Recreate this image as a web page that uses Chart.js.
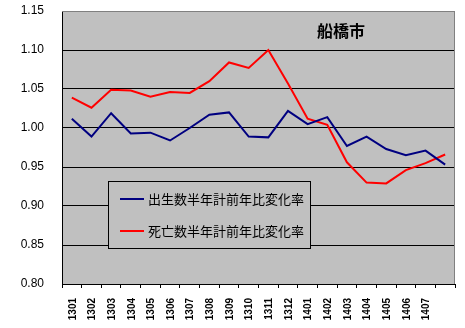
<!DOCTYPE html>
<html>
<head>
<meta charset="utf-8">
<script src="https://cdn.jsdelivr.net/npm/chart.js@4"></script>
<style>
  html, body { margin: 0; padding: 0; background: #fff; }
  canvas { display: block; }
</style>
</head>
<body>
<canvas id="chart" width="465" height="328"></canvas>
<script>
const months = ['1301', '1302', '1303', '1304', '1305', '1306', '1307', '1308', '1309', '1310',
  '1311', '1312', '1401', '1402', '1403', '1404', '1405', '1406', '1407', '1408'];
const birthRatio = [1.012, 0.989, 1.019, 0.993, 0.994, 0.984, 1.000, 1.017, 1.020, 0.989,
  0.988, 1.022, 1.005, 1.014, 0.977, 0.989, 0.973, 0.965, 0.971, 0.953];
const deathRatio = [1.039, 1.026, 1.049, 1.048, 1.040, 1.046, 1.045, 1.060, 1.084, 1.077,
  1.100, 1.057, 1.012, 1.004, 0.956, 0.930, 0.929, 0.946, 0.955, 0.966];
const seriesNames = ['出生数半年計前年比変化率', '死亡数半年計前年比変化率'];
const cityName = '船橋市';
const yMin = 0.80, yMax = 1.15, yStep = 0.05;

const plotBg = '#c0c0c0';
const jpFont = '"Noto Sans CJK JP", "Noto Sans", sans-serif';

const plotDecor = {
  id: 'plotDecor',
  beforeDraw(chart) {
    const { ctx, chartArea: a } = chart;
    ctx.save();
    ctx.fillStyle = plotBg;
    ctx.fillRect(a.left, a.top, a.right - a.left, a.bottom - a.top);
    ctx.restore();
  },
  afterDraw(chart) {
    const { ctx, chartArea: a } = chart;
    ctx.save();
    // grey frame on top and right
    ctx.strokeStyle = '#808080';
    ctx.lineWidth = 1;
    ctx.beginPath();
    ctx.moveTo(a.left, a.top + 0.5);
    ctx.lineTo(a.right - 0.5, a.top + 0.5);
    ctx.lineTo(a.right - 0.5, a.bottom);
    ctx.stroke();

    // vertical month labels under the x axis (last month has no label)
    const xs = chart.scales.x;
    ctx.fillStyle = '#000';
    ctx.font = 'bold 10px "Liberation Sans", Arial, sans-serif';
    ctx.textAlign = 'right';
    ctx.textBaseline = 'middle';
    for (let i = 0; i < months.length - 1; i++) {
      const x = xs.getPixelForValue(i);
      ctx.setTransform(0, -1, 1, 0, x + 1, a.bottom + 14);
      ctx.fillText(months[i], 0, 0);
    }
    ctx.setTransform(1, 0, 0, 1, 0, 0);

    // city name
    ctx.font = 'bold 16px ' + jpFont;
    ctx.textAlign = 'center';
    ctx.textBaseline = 'middle';
    ctx.fillText(cityName, 341, 31);

    // legend box
    const bx = 108.5, by = 181.5, bw = 202, bh = 67;
    ctx.fillStyle = plotBg;
    ctx.fillRect(bx, by, bw, bh);
    ctx.strokeStyle = '#000';
    ctx.strokeRect(bx, by, bw, bh);
    ctx.font = '13px ' + jpFont;
    ctx.textAlign = 'left';
    chart.data.datasets.forEach((ds, i) => {
      const y = 199 + i * 32;
      ctx.strokeStyle = ds.borderColor;
      ctx.lineWidth = 2;
      ctx.beginPath();
      ctx.moveTo(120, y);
      ctx.lineTo(144, y);
      ctx.stroke();
      ctx.fillStyle = '#000';
      ctx.fillText(ds.label, 148, y);
    });
    ctx.restore();
  }
};

new Chart(document.getElementById('chart'), {
  type: 'line',
  data: {
    labels: months,
    datasets: [
      {
        label: seriesNames[0],
        data: birthRatio,
        borderColor: '#000080',
        borderWidth: 2,
        pointRadius: 0,
        tension: 0,
      },
      {
        label: seriesNames[1],
        data: deathRatio,
        borderColor: '#ff0000',
        borderWidth: 2,
        pointRadius: 0,
        tension: 0,
      },
    ],
  },
  options: {
    responsive: false,
    animation: false,
    devicePixelRatio: 1,
    layout: { padding: { top: 11, right: 10, left: 0, bottom: 0 } },
    plugins: {
      legend: { display: false },
      tooltip: { enabled: false },
    },
    scales: {
      x: {
        offset: true,
        grid: {
          offset: true,
          drawOnChartArea: false,
          drawTicks: true,
          tickLength: 4,
          color: '#000',
        },
        border: { color: '#000', width: 1 },
        ticks: { display: false, autoSkip: false },
        afterFit(scale) {
          scale.height = 44;
          scale.paddingLeft = 0;
          scale.paddingRight = 0;
        },
      },
      y: {
        min: yMin,
        max: yMax,
        grid: {
          drawTicks: false,
          color: (c) => (c.tick && Math.abs(c.tick.value - yMax) < 1e-6 ? '#808080' : '#000'),
          lineWidth: 1,
        },
        border: { color: '#000', width: 1 },
        ticks: {
          stepSize: yStep,
          padding: 18,
          color: '#000',
          font: { family: '"Liberation Sans", Arial, sans-serif', size: 12 },
          callback: (v) => Number(v).toFixed(2),
        },
        afterFit(scale) {
          scale.width = 62;
          scale.paddingTop = 0;
          scale.paddingBottom = 0;
        },
      },
    },
  },
  plugins: [plotDecor],
});
</script>
</body>
</html>
